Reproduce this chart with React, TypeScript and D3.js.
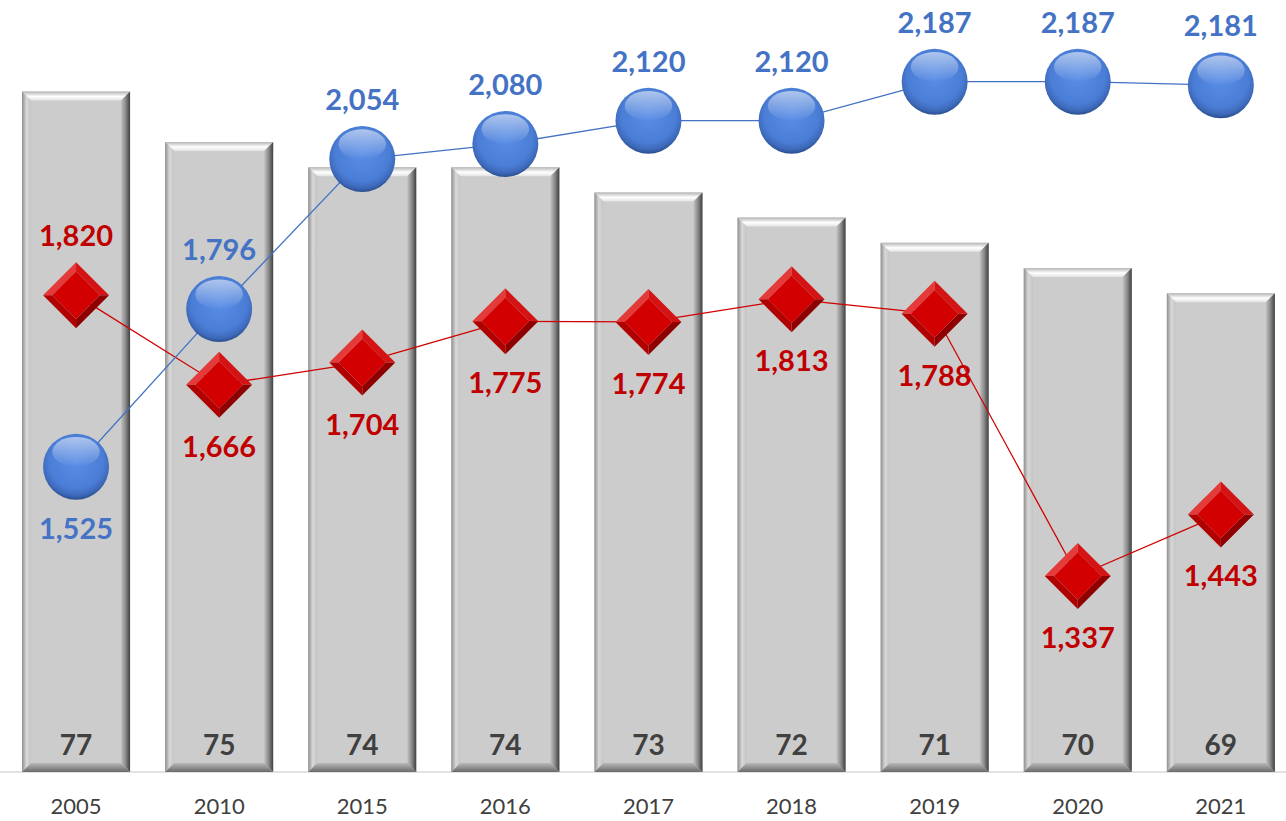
import React from "react";
import * as d3 from "d3";

const categories = ["2005", "2010", "2015", "2016", "2017", "2018", "2019", "2020", "2021"];
const barValues = [77, 75, 74, 74, 73, 72, 71, 70, 69];
const blueValues = [1525, 1796, 2054, 2080, 2120, 2120, 2187, 2187, 2181];
const redValues = [1820, 1666, 1704, 1775, 1774, 1813, 1788, 1337, 1443];
const blueLabelAbove = [false, true, true, true, true, true, true, true, true];
const redLabelAbove = [true, false, false, false, false, false, false, false, false];

const W = 1286;
const H = 821;
const TOP = 16;
const BASE = 772;
const FONT = "Lato, 'Open Sans', sans-serif";

export default function App() {
  const x = d3.scaleBand<string>().domain(categories).range([4.5, 1292.4]).paddingInner(0.245).paddingOuter(0.1225);
  const yBar = d3.scaleLinear().domain([50, 80]).range([BASE, TOP]);
  const yLine = d3.scaleLinear().domain([1000, 2300]).range([BASE, TOP]);
  const cx = (c: string) => (x(c) as number) + x.bandwidth() / 2;
  const line = d3
    .line<number>()
    .x((_, i) => cx(categories[i]))
    .y((v) => yLine(v));
  const fmt = d3.format(",");
  const b = 9;
  const R = 33;
  const D = 33;

  return (
    <svg width={W} height={H} style={{ position: "absolute", left: 0, top: 0, background: "#fff" }}>
      <defs>
        <linearGradient id="gTop" x1="0" y1="0" x2="0" y2="1">
          <stop offset="0" stopColor="#b5b5b5" />
          <stop offset="0.55" stopColor="#ffffff" />
          <stop offset="1" stopColor="#e2e2e2" />
        </linearGradient>
        <linearGradient id="gLeft" x1="0" y1="0" x2="1" y2="0">
          <stop offset="0" stopColor="#8f8f8f" />
          <stop offset="0.5" stopColor="#d8d8d8" />
          <stop offset="1" stopColor="#c4c4c4" />
        </linearGradient>
        <linearGradient id="gRight" x1="0" y1="0" x2="1" y2="0">
          <stop offset="0" stopColor="#c2c2c2" />
          <stop offset="0.5" stopColor="#8a8a8a" />
          <stop offset="1" stopColor="#3f3f3f" />
        </linearGradient>
        <linearGradient id="gBottom" x1="0" y1="0" x2="0" y2="1">
          <stop offset="0" stopColor="#b8b8b8" />
          <stop offset="1" stopColor="#6a6a6a" />
        </linearGradient>
        <radialGradient id="gCircle" cx="0.5" cy="0.42" r="0.58">
          <stop offset="0" stopColor="#5a8ee6" />
          <stop offset="0.72" stopColor="#4a7dd6" />
          <stop offset="0.9" stopColor="#3d68b8" />
          <stop offset="1" stopColor="#2a4f8f" />
        </radialGradient>
        <linearGradient id="gHi" x1="0" y1="0" x2="0" y2="1">
          <stop offset="0" stopColor="#ffffff" stopOpacity="0.55" />
          <stop offset="1" stopColor="#ffffff" stopOpacity="0" />
        </linearGradient>
      </defs>

      <line x1={0} x2={W} y1={BASE} y2={BASE} stroke="#d9d9d9" strokeWidth={1.5} />

      {categories.map((c, i) => {
        const x0 = x(c) as number;
        const x1 = x0 + x.bandwidth();
        const y0 = yBar(barValues[i]);
        const y1 = yBar(50);
        const p = (pts: number[][]) => pts.map((q) => q.join(",")).join(" ");
        return (
          <g key={c}>
            <rect x={x0} y={y0} width={x1 - x0} height={y1 - y0} fill="#cccccc" />
            <polygon points={p([[x0, y0], [x1, y0], [x1 - b, y0 + b], [x0 + b, y0 + b]])} fill="url(#gTop)" />
            <polygon points={p([[x0, y0], [x0 + b, y0 + b], [x0 + b, y1 - b], [x0, y1]])} fill="url(#gLeft)" />
            <polygon points={p([[x1, y0], [x1, y1], [x1 - b, y1 - b], [x1 - b, y0 + b]])} fill="url(#gRight)" />
            <polygon points={p([[x0, y1], [x1, y1], [x1 - b, y1 - b], [x0 + b, y1 - b]])} fill="url(#gBottom)" />
            <text x={cx(c)} y={y1 - 17} textAnchor="middle" fontFamily={FONT} fontWeight={700} fontSize={28} fill="#404040">
              {barValues[i]}
            </text>
            <text x={cx(c)} y={814} textAnchor="middle" fontFamily={FONT} fontSize={22} fill="#404040">
              {c}
            </text>
          </g>
        );
      })}

      <path d={line(redValues) as string} fill="none" stroke="#d00000" strokeWidth={1.3} />
      <path d={line(blueValues) as string} fill="none" stroke="#4472c4" strokeWidth={1.3} />

      {categories.map((c, i) => {
        const mx = cx(c);
        const my = yLine(redValues[i]);
        const k = 0.72;
        const o = [[mx, my - D], [mx + D, my], [mx, my + D], [mx - D, my]];
        const n = [[mx, my - D * k], [mx + D * k, my], [mx, my + D * k], [mx - D * k, my]];
        const poly = (pts: number[][]) => pts.map((q) => q.join(",")).join(" ");
        return (
          <g key={"r" + c}>
            <polygon points={poly([o[3], o[0], n[0], n[3]])} fill="#e53a3a" />
            <polygon points={poly([o[0], o[1], n[1], n[0]])} fill="#d41414" />
            <polygon points={poly([o[1], o[2], n[2], n[1]])} fill="#8e0000" />
            <polygon points={poly([o[2], o[3], n[3], n[2]])} fill="#b00000" />
            <polygon points={poly(n)} fill="#d20000" />
          </g>
        );
      })}

      {categories.map((c, i) => {
        const mx = cx(c);
        const my = yLine(blueValues[i]);
        return (
          <g key={"b" + c}>
            <circle cx={mx} cy={my} r={R} fill="url(#gCircle)" />
            <ellipse cx={mx} cy={my - R * 0.45} rx={R * 0.72} ry={R * 0.45} fill="url(#gHi)" />
          </g>
        );
      })}

      {categories.map((c, i) => {
        const mx = cx(c);
        const my = yLine(redValues[i]);
        return (
          <text key={"rl" + c} x={mx} y={redLabelAbove[i] ? my - 49 : my + 72} textAnchor="middle" fontFamily={FONT} fontWeight={700} fontSize={29} fill="#c00000">
            {fmt(redValues[i])}
          </text>
        );
      })}
      {categories.map((c, i) => {
        const mx = cx(c);
        const my = yLine(blueValues[i]);
        return (
          <text key={"bl" + c} x={mx} y={blueLabelAbove[i] ? my - 49 : my + 72} textAnchor="middle" fontFamily={FONT} fontWeight={700} fontSize={29} fill="#4472c4">
            {fmt(blueValues[i])}
          </text>
        );
      })}
    </svg>
  );
}
